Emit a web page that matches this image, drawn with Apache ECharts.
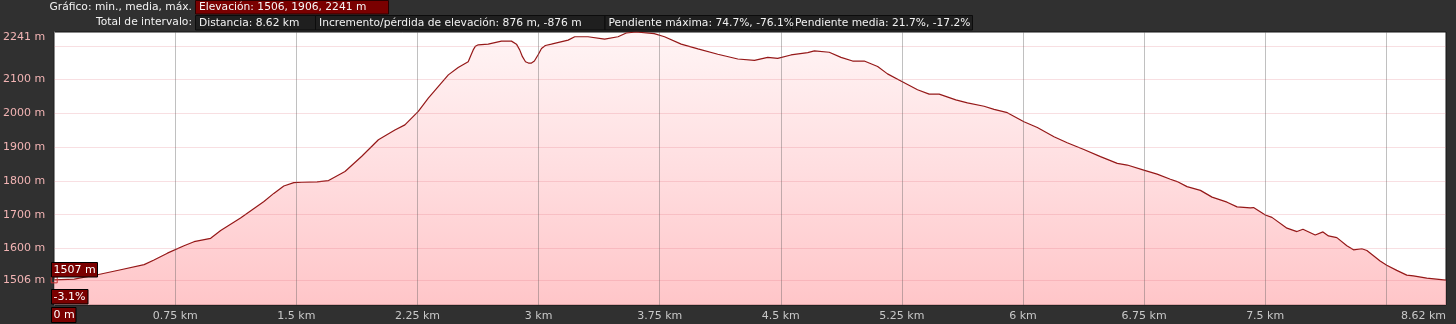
<!DOCTYPE html>
<html>
<head>
<meta charset="utf-8">
<script src="https://cdn.jsdelivr.net/npm/echarts@6/dist/echarts.min.js"></script>
<style>
html,body{margin:0;padding:0;background:#303030;}
#c{width:1456px;height:324px;}
</style>
</head>
<body>
<div id="c"></div>
<script>
var distKm = [0,0.124,0.268,0.412,0.557,0.618,0.701,0.804,0.866,0.969,1.031,1.154,1.299,1.360,1.422,1.484,1.534,1.628,1.699,1.801,1.905,2.008,2.110,2.172,2.255,2.317,2.441,2.502,2.564,2.579,2.595,2.609,2.626,2.688,2.770,2.832,2.863,2.883,2.900,2.919,2.937,2.956,2.974,2.999,3.018,3.042,3.079,3.183,3.224,3.306,3.409,3.492,3.543,3.605,3.716,3.780,3.883,3.987,4.110,4.234,4.337,4.419,4.481,4.563,4.667,4.708,4.800,4.873,4.945,5.017,5.100,5.161,5.244,5.347,5.419,5.481,5.584,5.656,5.759,5.821,5.903,6.006,6.089,6.192,6.274,6.377,6.480,6.584,6.646,6.748,6.831,6.913,6.955,7.016,7.099,7.171,7.264,7.326,7.408,7.428,7.501,7.542,7.635,7.697,7.734,7.810,7.858,7.892,7.944,8.006,8.047,8.099,8.130,8.212,8.253,8.315,8.377,8.418,8.501,8.620];
var elevM = [1507,1509,1522,1537,1552,1566,1586,1608,1620,1630,1653,1690,1739,1763,1785,1795,1796,1797,1801,1828,1873,1922,1951,1966,2006,2045,2114,2136,2153,2170,2188,2199,2203,2205,2214,2214,2205,2188,2168,2153,2149,2149,2155,2175,2192,2201,2205,2217,2227,2227,2220,2227,2238,2241,2236,2227,2205,2191,2175,2161,2157,2166,2163,2173,2180,2185,2181,2166,2155,2155,2139,2117,2096,2070,2057,2057,2040,2031,2021,2012,2002,1975,1958,1931,1913,1893,1872,1852,1847,1832,1820,1805,1798,1783,1772,1752,1737,1723,1720,1721,1699,1692,1660,1650,1657,1640,1649,1637,1632,1608,1596,1599,1594,1563,1550,1535,1521,1519,1512,1506];

var yLabelValues = [1506,1600,1700,1800,1900,2000,2100,2241];
var yGridValues = [1506,1600,1700,1800,1900,2000,2100,2200];
var xLabelValues = [0.75,1.5,2.25,3,3.75,4.5,5.25,6,6.75,7.5,8.62];
var xGridValues = [0.75,1.5,2.25,3,3.75,4.5,5.25,6,6.75,7.5,8.25];

var elevMin = 1506, elevMax = 2241, totalKm = 8.62;
var headerRow1Label = 'Gráfico: min., media, máx.';
var headerRow1Box = 'Elevación: 1506, 1906, 2241 m';
var headerRow2Label = 'Total de intervalo:';
var headerRow2Boxes = ['Distancia: 8.62 km','Incremento/pérdida de elevación: 876 m, -876 m','Pendiente máxima: 74.7%, -76.1%','Pendiente media: 21.7%, -17.2%'];
var cursorElev = '1507 m', cursorSlope = '-3.1%', cursorDist = '0 m';

var FONT = '11px "DejaVu Sans", Verdana, sans-serif';
var HFONT = '10.7px "DejaVu Sans", Verdana, sans-serif';
var dataPairs = distKm.map(function(d,i){return [d, elevM[i]];});

var hdr2X = [195.5, 315.5, 605, 791.5, 972.5];
var rects = [], texts = [];
rects.push({type:'rect', shape:{x:195.5, y:0.5, width:193, height:13.5}, style:{fill:'#7a0000', stroke:'#2a0000', lineWidth:1}});
texts.push({type:'text', z:10, style:{text:headerRow1Label, x:192, y:7.5, align:'right', verticalAlign:'middle', fill:'#f2f2f2', font:HFONT}});
texts.push({type:'text', z:10, style:{text:headerRow1Box, x:199, y:7.5, align:'left', verticalAlign:'middle', fill:'#f6f6f6', font:HFONT}});
texts.push({type:'text', z:10, style:{text:headerRow2Label, x:192, y:22.5, align:'right', verticalAlign:'middle', fill:'#f2f2f2', font:HFONT}});
headerRow2Boxes.forEach(function(t,i){
  rects.push({type:'rect', shape:{x:hdr2X[i], y:15.5, width:hdr2X[i+1]-hdr2X[i], height:14.5}, style:{fill:'#1f1f1f', stroke:'#0c0c0c', lineWidth:1}});
  texts.push({type:'text', z:10, style:{text:t, x:hdr2X[i]+3.5, y:23, align:'left', verticalAlign:'middle', fill:'#f2f2f2', font:HFONT}});
});
function box(x,y,w,h,t){
  rects.push({type:'rect', z:100, shape:{x:x, y:y, width:w, height:h}, style:{fill:'#7a0000', stroke:'#000', lineWidth:1}});
  texts.push({type:'text', z:101, style:{text:t, x:x+2, y:y+h/2+0.5, align:'left', verticalAlign:'middle', fill:'#ffffff', font:FONT}});
}
box(51.5, 262.5, 46, 14.5, cursorElev);
box(51.5, 289.5, 36.5, 14.5, cursorSlope);
box(51.5, 307.5, 24.5, 15, cursorDist);
var graphic = rects.concat(texts);

var markData = [];
yGridValues.forEach(function(v){ markData.push({yAxis:v, lineStyle:{color:'rgba(225,110,125,0.22)', width:1, type:'solid'}}); });
xGridValues.forEach(function(v){ markData.push({xAxis:v, lineStyle:{color:'rgba(90,90,90,0.38)', width:1, type:'solid'}}); });

var chart = echarts.init(document.getElementById('c'), null, {renderer:'canvas'});
chart.setOption({
  animation:false,
  backgroundColor:'#303030',
  grid:{left:52, right:10, top:32, bottom:19, show:true, backgroundColor:'#ffffff', borderColor:'#151515', borderWidth:1},
  xAxis:{type:'value', min:0, max:totalKm,
    axisLine:{show:false}, axisTick:{show:false}, splitLine:{show:false},
    axisLabel:{customValues:xLabelValues, color:'#c8c8c8', fontSize:11, fontFamily:'"DejaVu Sans", Verdana, sans-serif', margin:6, alignMaxLabel:'right',
      formatter:function(v){return v + ' km';}}
  },
  yAxis:{type:'value', min:elevMin - (elevMax-elevMin)*0.1, max:elevMax,
    axisLine:{show:true, lineStyle:{color:'#8a8a8a'}}, axisTick:{show:false}, splitLine:{show:false},
    axisLabel:{customValues:yLabelValues, color:'#f2b4b4', fontSize:11, fontFamily:'"DejaVu Sans", Verdana, sans-serif', margin:9, verticalAlignMaxLabel:'top',
      formatter:function(v){return v + ' m';}}
  },
  series:[{
    type:'line', data:dataPairs, showSymbol:false, symbol:'none', smooth:false,
    lineStyle:{color:'#951818', width:1.2},
    areaStyle:{color:new echarts.graphic.LinearGradient(0,32,0,305,[{offset:0,color:'#fff0f1'},{offset:0.5,color:'#ffd0d3'},{offset:1,color:'#ffadb1'}], true)},
    markLine:{silent:true, symbol:['none','none'], label:{show:false}, animation:false, data:markData},
    markPoint:{silent:true, symbol:'rect', symbolSize:6, label:{show:false}, animation:false,
      itemStyle:{color:'rgba(0,0,0,0)', borderColor:'#c83030', borderWidth:1},
      data:[{coord:[distKm[0], elevM[0]]}]}
  }],
  graphic:graphic
});
</script>
</body>
</html>
